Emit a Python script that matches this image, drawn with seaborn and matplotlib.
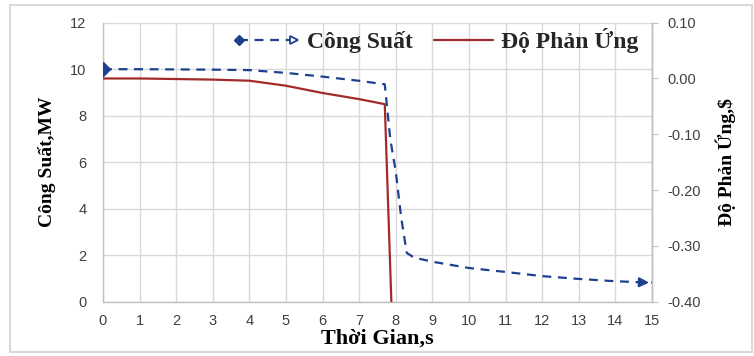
import numpy as np
import pandas as pd
import matplotlib
matplotlib.use("Agg")
import matplotlib.pyplot as plt
import seaborn as sns
from matplotlib.lines import Line2D
from matplotlib.legend_handler import HandlerBase
from matplotlib.patches import Rectangle

# Cong suat (MW) theo thoi gian
t_power = [0, 1, 2, 3, 4, 5, 6, 7, 7.7, 7.85, 8.0, 8.15, 8.3, 8.5, 9, 10, 11, 12, 13, 14, 15]
power = [10.0, 10.0, 9.99, 9.98, 9.96, 9.84, 9.68, 9.5, 9.35, 7.0, 5.6, 3.6, 2.1, 1.9,
         1.72, 1.45, 1.28, 1.1, 0.98, 0.88, 0.82]

# Do phan ung ($) theo thoi gian
t_react = [0, 1, 2, 3, 4, 5, 6, 7, 7.7, 7.885]
react = [0.0, 0.0, -0.001, -0.002, -0.004, -0.013, -0.026, -0.037, -0.046, -0.41]

# nhan truc phai
r_ticks = [-0.40, -0.30, -0.20, -0.10, 0.00, 0.10]
r_labels = ["-0.40", "-0.30", "-0.20", "-0.10", "0.00", "0.10"]

blue = "#1f3f8f"
red = "#a32a2a"
grid_c = "#d9d9d9"
tick_c = "#404040"

sns.set_style("white")
plt.rcParams["font.family"] = ["Liberation Sans", "DejaVu Sans"]

df_p = pd.DataFrame({"t": t_power, "p": power})
df_r = pd.DataFrame({"t": t_react, "r": react})

fig = plt.figure(figsize=(7.54, 3.56), dpi=100)
ax = fig.add_axes([0.1366, 0.1525, 0.728, 0.7838])
ax2 = ax.twinx()

sns.lineplot(data=df_p, x="t", y="p", ax=ax, color=blue, lw=1.6, zorder=3)
ax.lines[0].set_dashes([4, 3])
ax.plot(t_power[0], power[0], marker="D", color=blue, ms=7, zorder=4, clip_on=True)
ax.annotate("", xy=(t_power[-1], power[-1]),
            xytext=(t_power[-1] - 0.45, power[-1] + 0.02),
            arrowprops=dict(arrowstyle="-|>", color=blue, lw=1.6, mutation_scale=14),
            zorder=4, annotation_clip=False)

sns.lineplot(data=df_r, x="t", y="r", ax=ax2, color=red, lw=1.6, zorder=3)

ax.set_xlim(0, 15)
ax.set_ylim(0, 12)
ax2.set_ylim(-0.40, 0.10)
ax.set_xticks(range(0, 16))
ax.set_yticks(range(0, 13, 2))
ax2.set_yticks(r_ticks)
ax2.set_yticklabels(r_labels)

ax.grid(True, color=grid_c, lw=1.0)
ax.set_axisbelow(True)
for a in (ax, ax2):
    for s in a.spines.values():
        s.set_color("#bfbfbf")
        s.set_linewidth(1.0)
    a.spines["top"].set_visible(False)
ax2.spines["left"].set_visible(False)
ax2.spines["bottom"].set_visible(False)
ax.tick_params(axis="both", length=0, labelsize=10.5, colors=tick_c)
ax.tick_params(axis="y", pad=12)
ax.tick_params(axis="x", pad=9)
ax2.tick_params(axis="y", length=4, labelsize=10.5, colors=tick_c, pad=7)
ax2.tick_params(axis="y", color="#bfbfbf")

serif = ["Liberation Serif", "DejaVu Serif"]
ax.set_xlabel("Thời Gian,s", family=serif, weight="bold", fontsize=16, color="black")
ax.set_ylabel("Công Suất,MW", family=serif, weight="bold", fontsize=14, color="black")
ax2.set_ylabel("Độ Phản Ứng,\\$", family=serif, weight="bold", fontsize=14, color="black")
ax.xaxis.set_label_coords(0.5, -0.095)
ax.yaxis.set_label_coords(-0.085, 0.5)
ax2.yaxis.set_label_coords(1.115, 0.5)


class ArrowLineHandler(HandlerBase):
    def create_artists(self, legend, orig_handle, xdescent, ydescent,
                       width, height, fontsize, trans):
        y = height / 2 - ydescent
        x0, x1 = -xdescent, width - xdescent
        ln = Line2D([x0, x1 - 4], [y, y], color=blue, lw=1.6, dashes=[4, 3])
        dia = Line2D([x0], [y], marker="D", color=blue, ms=5, lw=0)
        arr = Line2D([x1 - 3], [y], marker=">", color=blue, mfc="white", ms=6, lw=0, mew=1.3)
        for a in (ln, dia, arr):
            a.set_transform(trans)
        return [ln, dia, arr]


h_p = Line2D([], [], color=blue)
h_r = Line2D([], [], color=red, lw=1.6)
fig.legend([h_p, h_r], ["Công Suất", "Độ Phản Ứng"],
           handler_map={h_p: ArrowLineHandler()},
           loc="center", bbox_to_anchor=(0.582, 0.885), ncol=2, frameon=False,
           prop=dict(family=serif, weight="bold", size=17),
           handlelength=2.5, handletextpad=0.35, columnspacing=0.9)

fig.patches.append(Rectangle((0.013, 0.012), 0.985, 0.975, transform=fig.transFigure,
                             fill=False, edgecolor="#d9d9d9", lw=1.5))

fig.savefig("out.png", dpi=100)
